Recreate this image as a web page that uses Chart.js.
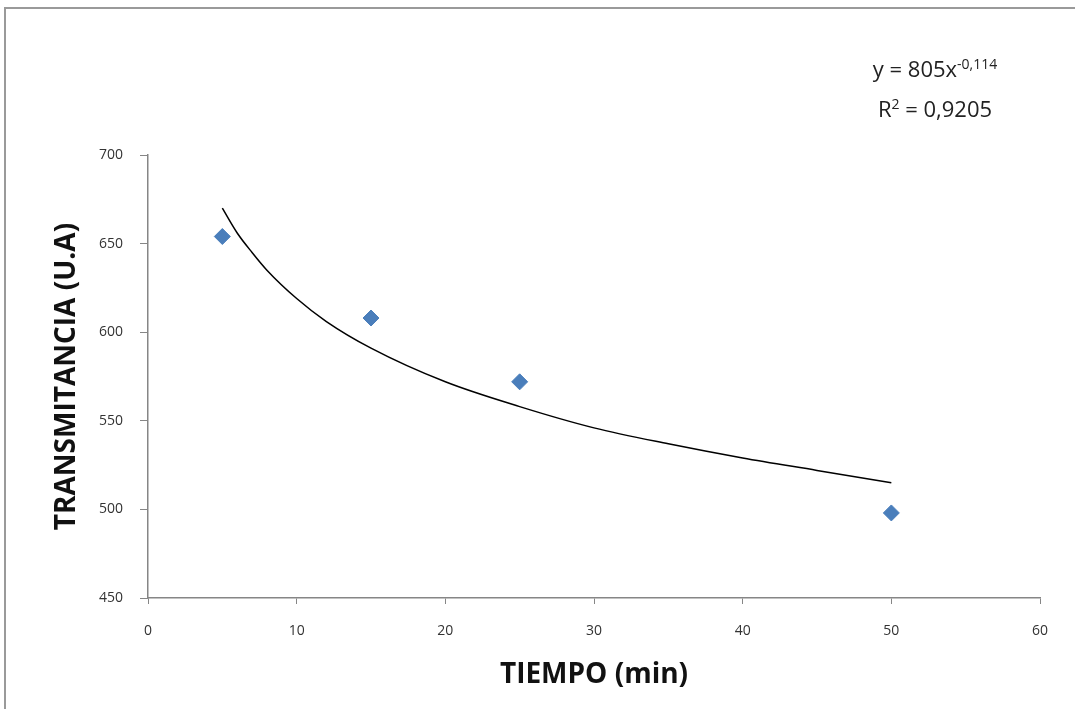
<!DOCTYPE html>
<html>
<head>
<meta charset="utf-8">
<script src="https://cdn.jsdelivr.net/npm/chart.js@4/dist/chart.umd.min.js"></script>
<style>
  body { margin: 0; background: #fff; }
  #wrap { position: relative; width: 1075px; height: 709px; overflow: hidden; }
  #frame { position: absolute; left: 4px; top: 7px; width: 1100px; height: 720px; border-left: 2px solid #9a9a9a; border-top: 2px solid #9a9a9a; }
  #eq { position: absolute; left: 835px; top: 46px; width: 200px; text-align: center; font-family: "Open Sans", sans-serif; font-size: 22px; color: #222; line-height: 36px; }
  #eq sup { font-size: 14px; }
</style>
</head>
<body>
<div id="wrap">
  <div id="frame"></div>
  <canvas id="chart" width="1075" height="709"></canvas>
  <div id="eq">y = 805x<sup>-0,114</sup><br>R<sup>2</sup> = 0,9205</div>
</div>
<script>
// measured points
var tiempo = [5, 15, 25, 50];
var transmitancia = [654, 608, 572, 498];

// trendline
var trendX = [5, 6, 7, 8, 10, 12, 15, 20, 25, 30, 35, 40, 45, 50];
var trendY = [670, 656, 645, 635, 619, 606, 591, 572, 558, 546, 537, 529, 522, 515];

var xTicks = [0, 10, 20, 30, 40, 50, 60];
var yTicks = [450, 500, 550, 600, 650, 700];

var puntos = tiempo.map(function (t, i) { return { x: t, y: transmitancia[i] }; });
var curva = trendX.map(function (t, i) { return { x: t, y: trendY[i] }; });

var axisColor = "#868686";
var tickFont = { family: "Open Sans", size: 14 };
var titleFont = { family: "Open Sans", size: 28, weight: "bold" };

var ctx = document.getElementById("chart").getContext("2d");

var chart = new Chart(ctx, {
  type: "scatter",
  data: {
    datasets: [
      {
        label: "Datos",
        data: puntos,
        pointStyle: "rectRot",
        pointRadius: 8,
        backgroundColor: "#4a7ebb",
        borderColor: "#4a7ebb",
        borderWidth: 1
      },
      {
        label: "Tendencia",
        data: curva,
        showLine: true,
        pointRadius: 0,
        borderColor: "#000",
        borderWidth: 1.5,
        cubicInterpolationMode: "monotone"
      }
    ]
  },
  options: {
    responsive: false,
    animation: false,
    layout: { padding: { left: 0, top: 155, right: 35, bottom: 0 } },
    plugins: {
      legend: { display: false },
      tooltip: { enabled: false }
    },
    scales: {
      x: {
        type: "linear",
        min: 0,
        max: 60,
        afterBuildTicks: function (scale) {
          scale.ticks = xTicks.map(function (v) { return { value: v }; });
        },
        afterFit: function (scale) { scale.height = 111; },
        grid: { drawOnChartArea: false, color: axisColor, tickLength: 6 },
        border: { color: axisColor, width: 1.5 },
        ticks: { color: "#333", font: tickFont, padding: 19, maxRotation: 0 },
        title: { display: true, text: "TIEMPO (min)", color: "#111", font: titleFont, padding: { top: 0, bottom: 17 } }
      },
      y: {
        type: "linear",
        min: 450,
        max: 700,
        afterBuildTicks: function (scale) {
          scale.ticks = yTicks.map(function (v) { return { value: v }; });
        },
        afterFit: function (scale) { scale.width = 148; },
        grid: { drawOnChartArea: false, color: axisColor, tickLength: 8 },
        border: { color: axisColor, width: 1.5 },
        ticks: { color: "#333", font: tickFont, padding: 17 },
        title: { display: true, text: "TRANSMITANCIA (U.A)", color: "#111", font: titleFont, padding: { top: 50, bottom: 0 } }
      }
    }
  }
});
</script>
</body>
</html>
